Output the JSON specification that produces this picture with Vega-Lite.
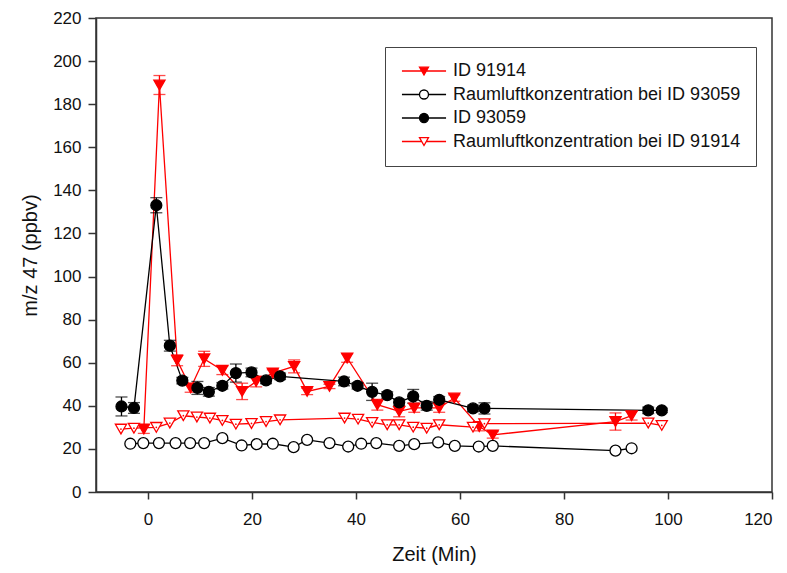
{
  "$schema": "https://vega.github.io/schema/vega-lite/v6.json",
  "width": 676,
  "height": 474,
  "autosize": {"type": "none"},
  "padding": {"left": 96, "top": 18, "right": 15, "bottom": 81},
  "background": "white",
  "config": {
    "font": "Liberation Sans",
    "view": {"stroke": "#333", "strokeWidth": 1.5},
    "axis": {
      "domainColor": "#333", "domainWidth": 1.5, "tickColor": "#333", "tickWidth": 1.5, "grid": false,
      "labelFont": "Liberation Sans", "labelFontSize": 17, "labelColor": "#111",
      "titleFont": "Liberation Sans", "titleFontSize": 20, "titleFontWeight": "normal", "titleColor": "#111"
    }
  },
  "data": {"values": [
    {"series": "ID 91914", "x": -0.8, "y": 29.2, "err": 2},
    {"series": "ID 91914", "x": 2.2, "y": 188.9, "err": 4.4},
    {"series": "ID 91914", "x": 5.6, "y": 61.1, "err": 2.5},
    {"series": "ID 91914", "x": 8.2, "y": 48.3, "err": 2},
    {"series": "ID 91914", "x": 10.8, "y": 61.8, "err": 3.5},
    {"series": "ID 91914", "x": 14.3, "y": 56.5, "err": 2},
    {"series": "ID 91914", "x": 18.1, "y": 46.7, "err": 3.8},
    {"series": "ID 91914", "x": 20.8, "y": 51.3, "err": 2.5},
    {"series": "ID 91914", "x": 24, "y": 55.2, "err": 1.5},
    {"series": "ID 91914", "x": 28.1, "y": 58.3, "err": 3},
    {"series": "ID 91914", "x": 30.6, "y": 46.7, "err": 1.5},
    {"series": "ID 91914", "x": 34.9, "y": 49, "err": 1},
    {"series": "ID 91914", "x": 38.3, "y": 62.2, "err": 2},
    {"series": "ID 91914", "x": 44.1, "y": 40.5, "err": 2.5},
    {"series": "ID 91914", "x": 48.3, "y": 37.4, "err": 2.5},
    {"series": "ID 91914", "x": 51.2, "y": 39, "err": 2},
    {"series": "ID 91914", "x": 56, "y": 39, "err": 2},
    {"series": "ID 91914", "x": 58.9, "y": 43.6, "err": 1.5},
    {"series": "ID 91914", "x": 63.7, "y": 30.4, "err": 2},
    {"series": "ID 91914", "x": 66.3, "y": 26.5, "err": 1.5},
    {"series": "ID 91914", "x": 89.9, "y": 32.7, "err": 4},
    {"series": "ID 91914", "x": 93, "y": 35.4, "err": 2},

    {"series": "ID 93059", "x": -5.1, "y": 39.7, "err": 4.4},
    {"series": "ID 93059", "x": -2.7, "y": 39, "err": 2.5},
    {"series": "ID 93059", "x": 1.6, "y": 133.1, "err": 3.5},
    {"series": "ID 93059", "x": 4.2, "y": 67.9, "err": 2.5},
    {"series": "ID 93059", "x": 6.6, "y": 51.7, "err": 1.5},
    {"series": "ID 93059", "x": 9.5, "y": 48.3, "err": 3},
    {"series": "ID 93059", "x": 11.7, "y": 46.5, "err": 2},
    {"series": "ID 93059", "x": 14.3, "y": 49.3, "err": 1.5},
    {"series": "ID 93059", "x": 16.9, "y": 55.2, "err": 4.2},
    {"series": "ID 93059", "x": 19.9, "y": 55.5, "err": 2},
    {"series": "ID 93059", "x": 22.7, "y": 51.8, "err": 1.5},
    {"series": "ID 93059", "x": 25.4, "y": 53.7, "err": 1.5},
    {"series": "ID 93059", "x": 37.7, "y": 51.3, "err": 2},
    {"series": "ID 93059", "x": 40.3, "y": 49.3, "err": 1.5},
    {"series": "ID 93059", "x": 43.1, "y": 46.5, "err": 4},
    {"series": "ID 93059", "x": 46, "y": 45, "err": 1.5},
    {"series": "ID 93059", "x": 48.3, "y": 41.6, "err": 1.5},
    {"series": "ID 93059", "x": 51, "y": 44.4, "err": 3.2},
    {"series": "ID 93059", "x": 53.6, "y": 40, "err": 2},
    {"series": "ID 93059", "x": 56, "y": 42.8, "err": 1.5},
    {"series": "ID 93059", "x": 62.5, "y": 38.8, "err": 1.5},
    {"series": "ID 93059", "x": 64.7, "y": 38.8, "err": 2.6},
    {"series": "ID 93059", "x": 96.2, "y": 37.9, "err": 1.5},
    {"series": "ID 93059", "x": 98.8, "y": 37.9, "err": 1},

    {"series": "Raumluftkonzentration bei ID 93059", "x": -3.4, "y": 22.4},
    {"series": "Raumluftkonzentration bei ID 93059", "x": -0.9, "y": 22.7},
    {"series": "Raumluftkonzentration bei ID 93059", "x": 2.1, "y": 22.7},
    {"series": "Raumluftkonzentration bei ID 93059", "x": 5.3, "y": 22.7},
    {"series": "Raumluftkonzentration bei ID 93059", "x": 8.1, "y": 22.7},
    {"series": "Raumluftkonzentration bei ID 93059", "x": 10.8, "y": 22.7},
    {"series": "Raumluftkonzentration bei ID 93059", "x": 14.3, "y": 25},
    {"series": "Raumluftkonzentration bei ID 93059", "x": 18, "y": 21.6},
    {"series": "Raumluftkonzentration bei ID 93059", "x": 20.9, "y": 22.2},
    {"series": "Raumluftkonzentration bei ID 93059", "x": 24, "y": 22.4},
    {"series": "Raumluftkonzentration bei ID 93059", "x": 28, "y": 20.8},
    {"series": "Raumluftkonzentration bei ID 93059", "x": 30.6, "y": 24.2},
    {"series": "Raumluftkonzentration bei ID 93059", "x": 34.9, "y": 22.7},
    {"series": "Raumluftkonzentration bei ID 93059", "x": 38.5, "y": 21.1},
    {"series": "Raumluftkonzentration bei ID 93059", "x": 41, "y": 22.4},
    {"series": "Raumluftkonzentration bei ID 93059", "x": 43.9, "y": 22.7},
    {"series": "Raumluftkonzentration bei ID 93059", "x": 48.3, "y": 21.4},
    {"series": "Raumluftkonzentration bei ID 93059", "x": 51.2, "y": 22.2},
    {"series": "Raumluftkonzentration bei ID 93059", "x": 55.8, "y": 23},
    {"series": "Raumluftkonzentration bei ID 93059", "x": 59, "y": 21.4},
    {"series": "Raumluftkonzentration bei ID 93059", "x": 63.6, "y": 21.1},
    {"series": "Raumluftkonzentration bei ID 93059", "x": 66.3, "y": 21.4},
    {"series": "Raumluftkonzentration bei ID 93059", "x": 89.9, "y": 19.2},
    {"series": "Raumluftkonzentration bei ID 93059", "x": 93, "y": 20.3},

    {"series": "Raumluftkonzentration bei ID 91914", "x": -5.2, "y": 29.2},
    {"series": "Raumluftkonzentration bei ID 91914", "x": -2.7, "y": 29.6},
    {"series": "Raumluftkonzentration bei ID 91914", "x": 1.6, "y": 30},
    {"series": "Raumluftkonzentration bei ID 91914", "x": 4.2, "y": 32},
    {"series": "Raumluftkonzentration bei ID 91914", "x": 6.8, "y": 35.4},
    {"series": "Raumluftkonzentration bei ID 91914", "x": 9.4, "y": 34.8},
    {"series": "Raumluftkonzentration bei ID 91914", "x": 11.9, "y": 34.3},
    {"series": "Raumluftkonzentration bei ID 91914", "x": 14.3, "y": 33.2},
    {"series": "Raumluftkonzentration bei ID 91914", "x": 16.9, "y": 31.5},
    {"series": "Raumluftkonzentration bei ID 91914", "x": 19.9, "y": 31.8},
    {"series": "Raumluftkonzentration bei ID 91914", "x": 22.7, "y": 32.7},
    {"series": "Raumluftkonzentration bei ID 91914", "x": 25.4, "y": 33.5},
    {"series": "Raumluftkonzentration bei ID 91914", "x": 37.8, "y": 34.3},
    {"series": "Raumluftkonzentration bei ID 91914", "x": 40.4, "y": 33.8},
    {"series": "Raumluftkonzentration bei ID 91914", "x": 43.1, "y": 32.3},
    {"series": "Raumluftkonzentration bei ID 91914", "x": 46, "y": 31.2},
    {"series": "Raumluftkonzentration bei ID 91914", "x": 48.3, "y": 31.2},
    {"series": "Raumluftkonzentration bei ID 91914", "x": 51, "y": 30.1},
    {"series": "Raumluftkonzentration bei ID 91914", "x": 53.6, "y": 29.6},
    {"series": "Raumluftkonzentration bei ID 91914", "x": 56, "y": 31.2},
    {"series": "Raumluftkonzentration bei ID 91914", "x": 62.5, "y": 30.1},
    {"series": "Raumluftkonzentration bei ID 91914", "x": 64.7, "y": 31.7},
    {"series": "Raumluftkonzentration bei ID 91914", "x": 96.2, "y": 32},
    {"series": "Raumluftkonzentration bei ID 91914", "x": 98.8, "y": 30.9}
  ]},
  "encoding": {
    "x": {"field": "x", "type": "quantitative",
      "scale": {"domain": [-10, 120], "nice": false, "zero": false},
      "axis": {"values": [0, 20, 40, 60, 80, 100, 120], "title": "Zeit (Min)", "tickSize": 7, "labelPadding": 12, "titlePadding": 17}},
    "y": {"field": "y", "type": "quantitative",
      "scale": {"domain": [0, 220], "nice": false},
      "axis": {"values": [0, 20, 40, 60, 80, 100, 120, 140, 160, 180, 200, 220], "title": "m/z 47 (ppbv)", "tickSize": 8, "labelPadding": 7, "titlePadding": 12}}
  },
  "layer": [
    {
      "mark": {"type": "point", "size": 81, "strokeWidth": 1.3, "opacity": 0},
      "encoding": {
        "shape": {"field": "series", "type": "nominal",
          "scale": {"domain": ["ID 91914", "Raumluftkonzentration bei ID 93059", "ID 93059", "Raumluftkonzentration bei ID 91914"],
            "range": ["M-4.9,0H-0.51M0.51,0H4.9M-1,-0.85H1L0,0.9Z", "M-4.9,0H-1M1,0H4.9M1,0A1,1,0,1,1,-1,0A1,1,0,1,1,1,0Z", "M-4.9,0H-1M1,0H4.9M1,0A1,1,0,1,1,-1,0A1,1,0,1,1,1,0Z", "M-4.9,0H-0.51M0.51,0H4.9M-1,-0.85H1L0,0.9Z"]},
          "legend": {"title": null, "orient": "none", "legendX": 289, "legendY": 29, "padding": 15,
            "strokeColor": "#444", "fillColor": "white",
            "labelFontSize": 18, "labelFont": "Liberation Sans", "labelColor": "#111", "labelLimit": 400,
            "symbolSize": 81, "symbolStrokeWidth": 1.3, "symbolOpacity": 1, "symbolOffset": 15, "labelOffset": 20, "rowPadding": 5.5}},
        "stroke": {"field": "series", "type": "nominal",
          "scale": {"domain": ["ID 91914", "Raumluftkonzentration bei ID 93059", "ID 93059", "Raumluftkonzentration bei ID 91914"], "range": ["#ff0000", "#000000", "#000000", "#ff0000"]},
          "legend": {"title": null, "orient": "none", "legendX": 289, "legendY": 29, "padding": 15,
            "strokeColor": "#444", "fillColor": "white",
            "labelFontSize": 18, "labelFont": "Liberation Sans", "labelColor": "#111", "labelLimit": 400,
            "symbolSize": 81, "symbolStrokeWidth": 1.3, "symbolOpacity": 1, "symbolOffset": 15, "labelOffset": 20, "rowPadding": 5.5}},
        "fill": {"field": "series", "type": "nominal",
          "scale": {"domain": ["ID 91914", "Raumluftkonzentration bei ID 93059", "ID 93059", "Raumluftkonzentration bei ID 91914"], "range": ["#ff0000", "#ffffff", "#000000", "#ffffff"]},
          "legend": {"title": null, "orient": "none", "legendX": 289, "legendY": 29, "padding": 15,
            "strokeColor": "#444", "fillColor": "white",
            "labelFontSize": 18, "labelFont": "Liberation Sans", "labelColor": "#111", "labelLimit": 400,
            "symbolSize": 81, "symbolStrokeWidth": 1.3, "symbolOpacity": 1, "symbolOffset": 15, "labelOffset": 20, "rowPadding": 5.5}}
      }
    },
    {
      "mark": {"type": "line", "strokeWidth": 1.3},
      "encoding": {
        "color": {"field": "series", "type": "nominal",
          "scale": {"domain": ["ID 93059", "ID 91914", "Raumluftkonzentration bei ID 93059", "Raumluftkonzentration bei ID 91914"], "range": ["#000000", "#ff0000", "#000000", "#ff0000"]},
          "legend": null}
      }
    },
    {
      "transform": [{"filter": "isValid(datum.err)"}],
      "mark": {"type": "errorbar", "thickness": 1.3, "ticks": {"size": 12}},
      "encoding": {
        "yError": {"field": "err"},
        "color": {"field": "series", "type": "nominal", "legend": null}
      }
    },
    {
      "transform": [{"filter": "datum.series === 'ID 91914'"}],
      "mark": {"type": "point", "shape": "triangle-down", "filled": true, "fill": "#ff0000", "stroke": "#ff0000", "size": 125, "strokeWidth": 1.3, "opacity": 1}
    },
    {
      "transform": [{"filter": "datum.series === 'Raumluftkonzentration bei ID 93059'"}],
      "mark": {"type": "point", "shape": "circle", "filled": true, "fill": "#ffffff", "stroke": "#000000", "size": 120, "strokeWidth": 1.3, "opacity": 1}
    },
    {
      "transform": [{"filter": "datum.series === 'ID 93059'"}],
      "mark": {"type": "point", "shape": "circle", "filled": true, "fill": "#000000", "stroke": "#000000", "size": 120, "strokeWidth": 1.3, "opacity": 1}
    },
    {
      "transform": [{"filter": "datum.series === 'Raumluftkonzentration bei ID 91914'"}],
      "mark": {"type": "point", "shape": "triangle-down", "filled": true, "fill": "#ffffff", "stroke": "#ff0000", "size": 125, "strokeWidth": 1.3, "opacity": 1}
    },
    {
      "transform": [{"filter": "datum.series === 'Raumluftkonzentration bei ID 91914'"}],
      "mark": {"type": "circle", "size": 3, "color": "#ff0000", "opacity": 1}
    }
  ]
}
